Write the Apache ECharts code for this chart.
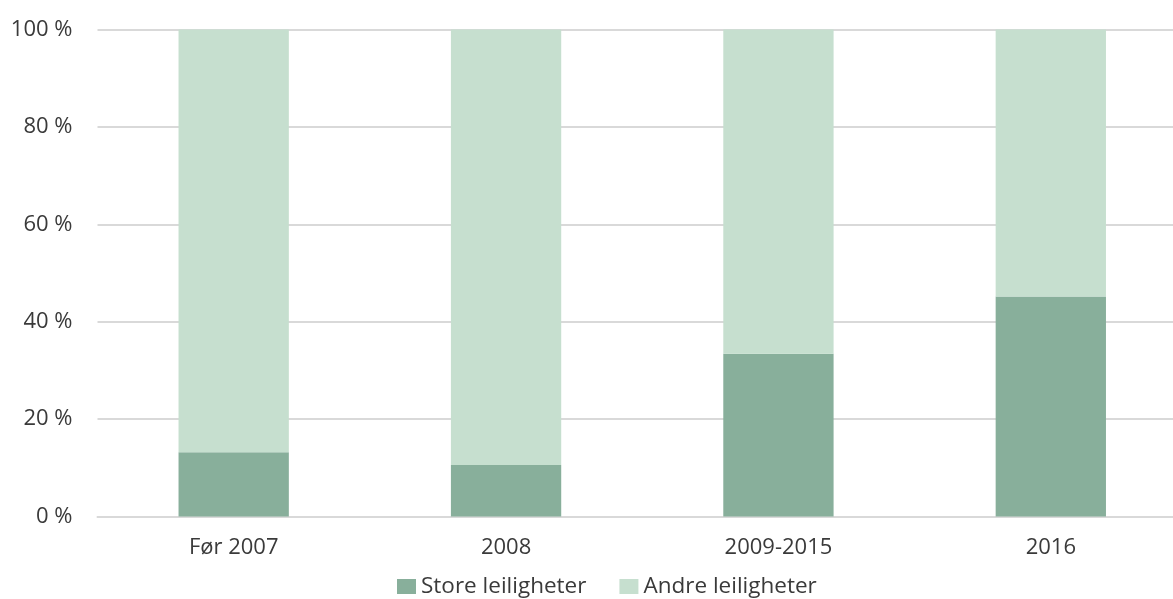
<!DOCTYPE html>
<html><head><meta charset="utf-8">
<script src="https://cdn.jsdelivr.net/npm/echarts@6/dist/echarts.min.js"></script>
<style>html,body{margin:0;padding:0;background:#fff;overflow:hidden}#c{width:1187px;height:599px}</style>
</head><body><div id="c"></div>
<script>
const categories = ["Før 2007", "2008", "2009-2015", "2016"];
const storeLeiligheter = [13.2, 10.6, 33.4, 45.2];
const andreLeiligheter = [86.8, 89.4, 66.6, 54.8];
const yTicks = [0, 20, 40, 60, 80, 100];

const chart = echarts.init(document.getElementById('c'));
const font = '"Open Sans", Lato, sans-serif';
chart.setOption({
  animation: false,
  textStyle: { fontFamily: font },
  grid: { left: 97.5, top: 29.5, right: 0, height: 487 },
  legend: {
    top: 575, left: 397, itemWidth: 19, itemHeight: 15, itemGap: 33,
    icon: 'rect', padding: 0,
    textStyle: { fontSize: 22.5, color: '#3a3a3a', fontFamily: font, padding: [0, 0, 0, 0] },
    data: ['Store leiligheter', 'Andre leiligheter']
  },
  xAxis: {
    type: 'category', data: categories,
    axisLine: { show: true, lineStyle: { color: '#D9D9D9', width: 2 } },
    axisTick: { show: false },
    axisLabel: { fontSize: 22, color: '#3a3a3a', margin: 20, fontFamily: font }
  },
  yAxis: {
    type: 'value', min: 0, max: 100, interval: 20,
    axisLabel: { fontSize: 22, color: '#3a3a3a', margin: 25, fontFamily: font,
      formatter: v => yTicks.includes(v) ? v + ' %' : '' },
    splitLine: { lineStyle: { color: '#D9D9D9', width: 2 } },
    axisLine: { show: false }, axisTick: { show: false }
  },
  series: [
    { name: 'Store leiligheter', type: 'bar', stack: 's', data: storeLeiligheter,
      barWidth: '40.5%', itemStyle: { color: '#88AF9B' } },
    { name: 'Andre leiligheter', type: 'bar', stack: 's', data: andreLeiligheter,
      barWidth: '40.5%', itemStyle: { color: '#C6DFCF' } }
  ]
});
</script></body></html>
